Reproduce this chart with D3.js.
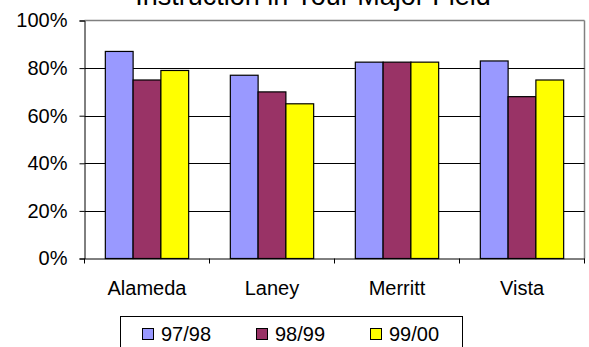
<!DOCTYPE html>
<html>
<head>
<meta charset="utf-8">
<script src="https://cdn.jsdelivr.net/npm/d3@7"></script>
<style>
  html, body { margin: 0; padding: 0; background: #fff; }
  svg { display: block; font-family: Arial, "Liberation Sans", sans-serif; }
</style>
</head>
<body>
<svg id="chart" width="589" height="347"></svg>
<script>
const title = "Instruction in Your Major Field";
const categories = ["Alameda", "Laney", "Merritt", "Vista"];
const seriesNames = ["97/98", "98/99", "99/00"];
const values9798 = [0.87, 0.77, 0.825, 0.83];
const values9899 = [0.75, 0.70, 0.825, 0.68];
const values9900 = [0.79, 0.65, 0.825, 0.75];
const colors = ["#9999FF", "#993366", "#FFFF00"];
const yTicks = [0, 0.2, 0.4, 0.6, 0.8, 1.0];

const seriesValues = [values9798, values9899, values9900];

const svg = d3.select("#chart");
svg.append("rect").attr("width", 589).attr("height", 347).attr("fill", "#fff");

const plot = { left: 84.5, right: 584.5, top: 20.5, bottom: 258.5 };

const x0 = d3.scaleBand().domain(categories).range([plot.left, plot.right]).padding(0);
const bw = x0.bandwidth();
const x1 = d3.scaleBand().domain(seriesNames).range([bw / 6, bw * 5 / 6]).padding(0);
const y = d3.scaleLinear().domain([0, 1]).range([plot.bottom, plot.top]);

// title (cut off at top, as in the reference)
svg.append("text")
  .attr("x", 313)
  .attr("y", 5)
  .attr("text-anchor", "middle")
  .attr("font-size", 27)
  .attr("fill", "#000")
  .text(title);

// plot border: top & right gray
svg.append("line").attr("x1", plot.left).attr("x2", plot.right)
  .attr("y1", y(1)).attr("y2", y(1)).attr("stroke", "#808080").attr("stroke-width", 1.5);
svg.append("line").attr("x1", plot.right).attr("x2", plot.right)
  .attr("y1", plot.top).attr("y2", plot.bottom).attr("stroke", "#808080").attr("stroke-width", 1.5);

// gridlines
svg.append("g").selectAll("line")
  .data(yTicks.filter(t => t > 0 && t < 1))
  .join("line")
  .attr("x1", plot.left).attr("x2", plot.right)
  .attr("y1", d => Math.round(y(d)) + 0.5).attr("y2", d => Math.round(y(d)) + 0.5)
  .attr("stroke", "#000").attr("stroke-width", 1);

// y axis
const yAxis = d3.axisLeft(y).tickValues(yTicks).tickFormat(d3.format(".0%")).tickSize(5).tickPadding(12);
const gy = svg.append("g").attr("transform", `translate(${plot.left},0)`).call(yAxis);
gy.select(".domain").attr("stroke", "#000");
gy.selectAll(".tick line").attr("stroke", "#000");
gy.selectAll(".tick text").attr("font-size", 20).attr("fill", "#000")
  .attr("font-family", "Arial, 'Liberation Sans', sans-serif");

// bars
const groups = svg.append("g").selectAll("g")
  .data(categories)
  .join("g")
  .attr("transform", d => `translate(${x0(d)},0)`);

groups.selectAll("rect")
  .data((c, i) => seriesNames.map((s, j) => ({ s, v: seriesValues[j][i], c: colors[j] })))
  .join("rect")
  .attr("x", d => x1(d.s))
  .attr("width", x1.bandwidth())
  .attr("y", d => y(d.v))
  .attr("height", d => y(0) - y(d.v))
  .attr("fill", d => d.c)
  .attr("stroke", "#000")
  .attr("stroke-width", 1.2);

// x axis
const xAxis = d3.axisBottom(x0).tickSize(0).tickPadding(22);
const gx = svg.append("g").attr("transform", `translate(0,${plot.bottom})`).call(xAxis);
gx.select(".domain").attr("stroke", "#000");
gx.selectAll(".tick text").attr("font-size", 20).attr("fill", "#000")
  .attr("font-family", "Arial, 'Liberation Sans', sans-serif");
// category separator ticks
const boundaries = categories.map(c => x0(c)).concat([plot.right]);
svg.append("g").selectAll("line")
  .data(boundaries)
  .join("line")
  .attr("x1", d => d).attr("x2", d => d)
  .attr("y1", plot.bottom).attr("y2", plot.bottom + 5)
  .attr("stroke", "#000");

// legend
const legend = svg.append("g");
legend.append("rect")
  .attr("x", 120.5).attr("y", 316.5)
  .attr("width", 342).attr("height", 45)
  .attr("fill", "#fff").attr("stroke", "#000").attr("stroke-width", 1);
const itemX = d3.scalePoint().domain(seriesNames).range([142, 370]);
const items = legend.selectAll("g.item")
  .data(seriesNames.map((s, j) => ({ s, c: colors[j] })))
  .join("g").attr("class", "item")
  .attr("transform", d => `translate(${itemX(d.s)},0)`);
items.append("rect")
  .attr("x", 0.5).attr("y", 328.5).attr("width", 11).attr("height", 11)
  .attr("fill", d => d.c).attr("stroke", "#000").attr("stroke-width", 1);
items.append("text")
  .attr("x", 19).attr("y", 341)
  .attr("font-size", 20).attr("fill", "#000")
  .text(d => d.s);
</script>
</body>
</html>
